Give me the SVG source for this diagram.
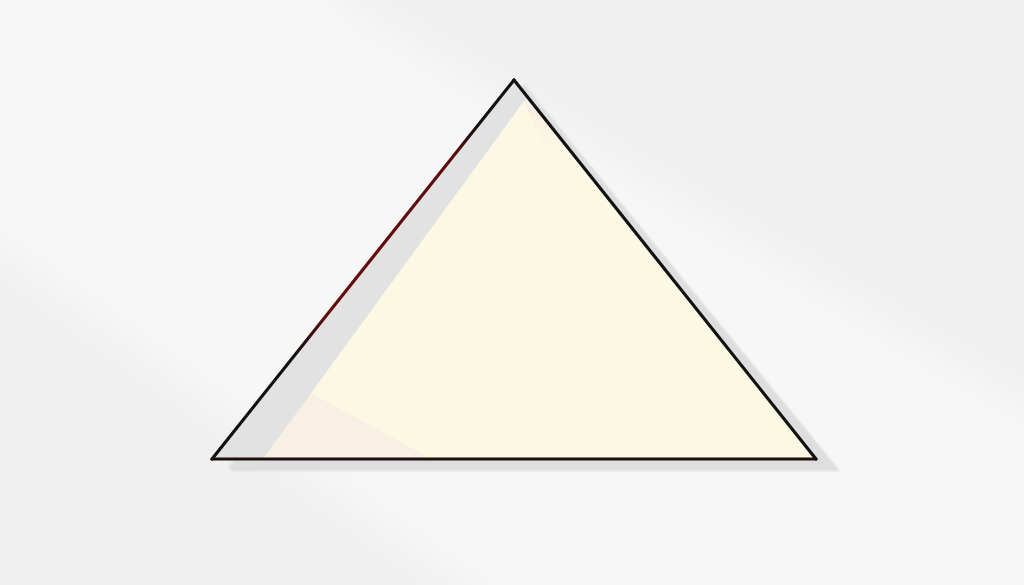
<svg xmlns="http://www.w3.org/2000/svg" width="1024" height="585" viewBox="0 0 1024 585">
  <defs>
    <filter id="soft" x="-20%" y="-20%" width="140%" height="140%">
      <feGaussianBlur stdDeviation="18"/>
    </filter>
    <filter id="shadowBlur" x="-10%" y="-10%" width="120%" height="120%">
      <feGaussianBlur stdDeviation="0.8"/>
    </filter>
    <linearGradient id="leftEdge" gradientUnits="userSpaceOnUse" x1="514" y1="80" x2="212" y2="459">
      <stop offset="0" stop-color="#111111"/>
      <stop offset="0.12" stop-color="#141010"/>
      <stop offset="0.2" stop-color="#5e0b0b"/>
      <stop offset="0.62" stop-color="#640c0c"/>
      <stop offset="0.72" stop-color="#141010"/>
      <stop offset="1" stop-color="#0d0d0d"/>
    </linearGradient>
    <linearGradient id="apexTint" gradientUnits="userSpaceOnUse" x1="524" y1="100" x2="560" y2="170">
      <stop offset="0" stop-color="#f8f0e4"/>
      <stop offset="1" stop-color="#fdf8e4"/>
    </linearGradient>
  </defs>
  <style>
    .bg { fill: #f0f0f0; }
    .band { fill: #f7f7f7; }
    .shadow { fill: #dedede; }
    .face { fill: #fdf8e4; }
    .fold { fill: #e2e2e2; }
    .tint { fill: #f8f0e4; }
    .edge { fill: none; stroke-width: 3.2; stroke-linecap: round; stroke-linejoin: miter; }
  </style>

  <rect class="bg" x="0" y="0" width="1024" height="585"/>
  <polygon class="band" filter="url(#soft)" points="-60,-60 330,-60 340,0 1100,450 1100,700 620,700 0,250 -60,220"/>

  <g id="triangle">
    <polygon class="shadow" filter="url(#shadowBlur)" points="524,84 840,471 232,471 228,468"/>
    <polygon class="face" points="514,80 816,459 212,459"/>
    <polygon fill="url(#apexTint)" points="524,101 528,97 560,137 545,150"/>
    <polygon class="tint" points="311,393 432,459 263,459"/>
    <polygon class="fold" points="514,80 528,97 524,101 263,459 212,459"/>
    <line class="edge" x1="514" y1="80" x2="212" y2="459" stroke="url(#leftEdge)"/>
    <line class="edge" x1="514" y1="80" x2="816" y2="459" stroke="#111111"/>
    <line class="edge" x1="212" y1="459" x2="816" y2="459" stroke="#1c0f0c"/>
  </g>
</svg>
